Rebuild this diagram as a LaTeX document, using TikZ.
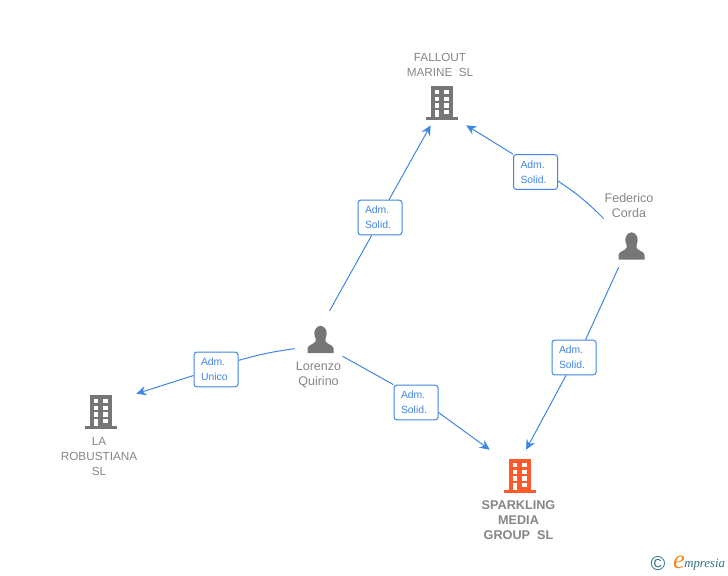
\documentclass[tikz,border=0pt]{standalone}
\usepackage{fontspec}
\setmainfont{Liberation Sans}
\newfontfamily\logofont{Liberation Serif}
\usetikzlibrary{arrows.meta}
\definecolor{wireblue}{HTML}{3F86E3}
\definecolor{icongray}{HTML}{767676}
\definecolor{textgray}{HTML}{858585}
\definecolor{iconorange}{HTML}{FF5A2C}
\definecolor{logoteal}{HTML}{2F7188}
\definecolor{logoorange}{HTML}{F58A1F}
% icons are drawn around the centre of their node
\newcommand{\buildingicon}[1]{
  \begin{scope}[shift={(path picture bounding box.center)},x=0.75pt,y=-0.75pt]
    \fill[#1] (-11,-17) rectangle (11,14);
    \fill[#1] (-16,14) rectangle (16,17);
    \foreach \wy in {-13,-6.3,0.3}{
      \fill[white] (-7.3,\wy) rectangle +(4.6,4.2);
      \fill[white] (2,\wy) rectangle +(4.6,4.2);
    }
    \fill[white] (-7.3,7) rectangle (-2.7,14);
    \fill[white] (2,7) rectangle (6.6,11.2);
  \end{scope}
}
% #1 and #2 move the person away from the centre of the node
\newcommand{\personicon}[2]{
  \begin{scope}[shift={(path picture bounding box.center)},x=0.75pt,y=-0.75pt]
    \fill[icongray] (#1,#2-6) ellipse (6.2 and 7.6);
    \fill[icongray] (#1-13,#2+13.5) -- (#1-13,#2+9) .. controls (#1-13,#2+5.5) and (#1-7,#2+5) .. (#1-5,#2+2)
      -- (#1-5,#2-3) -- (#1+5,#2-3) -- (#1+5,#2+2) .. controls (#1+7,#2+5) and (#1+13,#2+5.5) .. (#1+13,#2+9) -- (#1+13,#2+13.5) -- cycle;
  \end{scope}
}
\tikzset{
  iconbox/.style={inner sep=0pt},
  namelabel/.style={text=textgray,font=\fontsize{8.8}{11.25}\selectfont,align=center,inner sep=0pt},
  personlabel/.style={namelabel,font=\fontsize{9.4}{11.25}\selectfont},
  rolebox/.style={draw=wireblue,fill=white,line width=0.75pt,rounded corners=2pt,text=wireblue,
    font=\fontsize{7.8}{11.25}\selectfont,align=left,inner sep=0pt,text width=22.5pt,minimum width=33pt,minimum height=26pt},
  wire/.style={draw=wireblue,line width=0.75pt},
  wirearrow/.style={wire,-{Stealth[length=7.5pt,width=7pt]}}
}
\begin{document}
\begin{tikzpicture}[x=0.75pt,y=-0.75pt]
\useasboundingbox (0,0) rectangle (728,575);
\node[iconbox,minimum width=36pt,minimum height=33pt,path picture={\buildingicon{icongray}}] (fallout) at (442,103) {};
\node[iconbox,minimum width=52.5pt,minimum height=27pt,path picture={\buildingicon{icongray}}] (robustiana) at (101,412) {};
\node[iconbox,minimum width=45pt,minimum height=39pt,path picture={\buildingicon{iconorange}}] (sparkling) at (520,476) {};
\node[iconbox,minimum width=36pt,minimum height=33.75pt,path picture={\personicon{1.5}{6}}] (lorenzo) at (319,333.5) {};
\node[iconbox,minimum width=40.5pt,minimum height=36pt,path picture={\personicon{0.5}{3}}] (federico) at (631,243) {};

\node[namelabel] (falloutname) at (440,64.5) {FALLOUT\\MARINE~~SL};
\node[namelabel] (robustiananame) at (99,456.5) {LA\\ROBUSTIANA\\SL};
\node[namelabel,font=\fontsize{9.5}{11.25}\selectfont\bfseries] (sparklingname) at (518.5,520) {SPARKLING\\MEDIA\\GROUP~~SL};
\node[personlabel] (lorenzoname) at (318.5,374.5) {Lorenzo\\Quirino};
\node[personlabel] (federiconame) at (629,205.5) {Federico\\Corda};

\node[rolebox] (admfallout) at (380,217.5) {Adm.\\Solid.};
\node[rolebox] (admcorda) at (535.5,172) {Adm.\\Solid.};
\node[rolebox] (admunico) at (216,369.5) {Adm.\\Unico};
\node[rolebox] (admquirino) at (416,402.5) {Adm.\\Solid.};
\node[rolebox] (admmedia) at (574,357.5) {Adm.\\Solid.};

\draw[wire] (lorenzo.65) -- (admfallout.245);
\draw[wirearrow] (admfallout.63) -- (fallout.243);
\draw[wire] (federico.north west) to[bend right=6] (admcorda.-22);
\draw[wirearrow] (admcorda.north west) -- (fallout.south east);
\draw[wire] (federico.243) -- (admmedia.57);
\draw[wirearrow] (admmedia.246) -- (sparkling.77);
\draw[wire] (lorenzo.212) to[bend right=4] (admunico.22);
\draw[wirearrow] (admunico.195) -- (robustiana.north east);
\draw[wire] (lorenzo.-44) -- (admquirino.north west);
\draw[wirearrow] (admquirino.-24) -- (sparkling.north west);

\node[text=logoteal,font=\fontsize{15}{15}\selectfont,inner sep=0pt] (logocopy) at (658,564) {\textcopyright};
\node[text=logoorange,font=\logofont\itshape\fontsize{20}{20}\selectfont,inner sep=0pt] (logoe) at (679,562.5) {e};
\node[text=logoteal,font=\logofont\itshape\fontsize{9.6}{10}\selectfont,inner sep=0pt,anchor=west] (logoname) at (684,565) {mpresia};
\end{tikzpicture}
\end{document}
